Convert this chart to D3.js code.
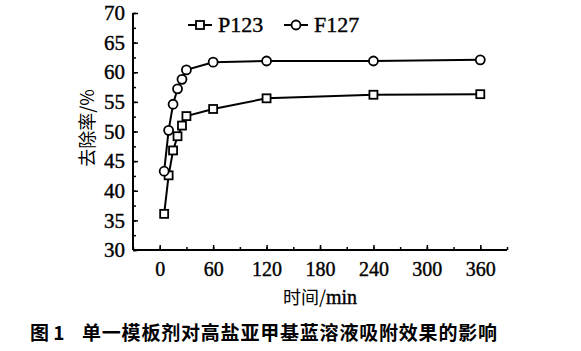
<!DOCTYPE html>
<html>
<head>
<meta charset="utf-8">
<script src="https://cdn.jsdelivr.net/npm/d3@7"></script>
<style>
  body { margin: 0; background: #fff; }
  svg { display: block; }
</style>
</head>
<body>
<svg id="chart" width="581" height="351"></svg>
<script>
const times = [5, 10, 15, 20, 25, 30, 60, 120, 240, 360];
const p123 = [36.1, 42.6, 46.8, 49.2, 51.0, 52.6, 53.8, 55.6, 56.2, 56.3];
const f127 = [43.3, 50.2, 54.6, 57.2, 58.8, 60.4, 61.7, 61.9, 61.9, 62.1];
const xTicks = [0, 60, 120, 180, 240, 300, 360];
const yTicks = [30, 35, 40, 45, 50, 55, 60, 65, 70];

const svg = d3.select("#chart");
const serif = "Liberation Serif";
const cjk = "Noto Sans CJK SC";

const x = d3.scaleLinear().domain([-30, 390]).range([133, 507]);
const y = d3.scaleLinear().domain([30, 70]).range([250, 13]);

// minor ticks first, then major with labels
svg.append("g")
    .attr("transform", "translate(0,250)")
    .call(d3.axisBottom(x).tickValues(d3.range(-30, 391, 30)).tickSize(-3).tickFormat(""))
    .call(g => g.select(".domain").remove());
svg.append("g")
    .attr("transform", "translate(133,0)")
    .call(d3.axisLeft(y).tickValues(d3.range(30, 70.1, 2.5)).tickSize(-3).tickFormat(""))
    .call(g => g.select(".domain").remove());

const xAxis = svg.append("g")
    .attr("transform", "translate(0,250)")
    .call(d3.axisBottom(x).tickValues(xTicks).tickSize(-5).tickPadding(12).tickSizeOuter(0))
    .attr("font-family", serif).attr("font-size", 20);
xAxis.select(".domain").attr("d", `M${x.range()[0]},0H${x.range()[1]}`).attr("stroke-width", 2);
xAxis.selectAll(".tick text").attr("fill", "#000").attr("stroke", "#000").attr("stroke-width", 0.4);

const yAxis = svg.append("g")
    .attr("transform", "translate(133,0)")
    .call(d3.axisLeft(y).tickValues(yTicks).tickSize(-5).tickPadding(8).tickSizeOuter(0))
    .attr("font-family", serif).attr("font-size", 21);
yAxis.select(".domain").attr("d", `M0,${y.range()[0]}V${y.range()[1]}`).attr("stroke-width", 2);
yAxis.selectAll(".tick text").attr("fill", "#000").attr("stroke", "#000").attr("stroke-width", 0.4);
svg.selectAll(".tick line").attr("stroke-width", 1.5);

// titles
svg.append("text")
    .attr("x", 320).attr("y", 304)
    .attr("text-anchor", "middle")
    .attr("font-size", 18)
    .attr("font-family", cjk)
    .text("时间/")
    .append("tspan").attr("font-family", serif).attr("font-size", 20)
    .attr("stroke", "#000").attr("stroke-width", 0.4).text("min");

svg.append("text")
    .attr("transform", "translate(94,128) rotate(-90)")
    .attr("text-anchor", "middle")
    .attr("font-size", 18)
    .attr("font-family", cjk)
    .text("去除率/%");

svg.append("text")
    .attr("x", 30).attr("y", 340)
    .attr("font-size", 19)
    .attr("font-weight", "bold")
    .attr("font-family", cjk)
    .text("图 1")
    .append("tspan").attr("x", 82).attr("letter-spacing", 0.8).text("单一模板剂对高盐亚甲基蓝溶液吸附效果的影响");

// series
const series = [
    {name: "P123", values: p123, shape: "square"},
    {name: "F127", values: f127, shape: "circle"},
];
const line = d3.line().x(d => x(d[0])).y(d => y(d[1]));

function marker(g, shape, cx, cy) {
    if (shape === "square") {
        g.append("rect")
            .attr("x", cx - 4).attr("y", cy - 4)
            .attr("width", 8).attr("height", 8)
            .attr("fill", "#fff").attr("stroke", "#000").attr("stroke-width", 1.8);
    } else {
        g.append("circle")
            .attr("cx", cx).attr("cy", cy).attr("r", 4.5)
            .attr("fill", "#fff").attr("stroke", "#000").attr("stroke-width", 1.8);
    }
}

series.forEach(s => {
    const pts = times.map((t, i) => [t, s.values[i]]);
    const g = svg.append("g");
    g.append("path")
        .attr("d", line(pts))
        .attr("fill", "none").attr("stroke", "#000").attr("stroke-width", 2);
    pts.forEach(p => marker(g, s.shape, x(p[0]), y(p[1])));
});

// legend
const legend = [
    {name: "P123", shape: "square", x0: 188},
    {name: "F127", shape: "circle", x0: 284},
];
legend.forEach(l => {
    const g = svg.append("g");
    g.append("line")
        .attr("x1", l.x0).attr("x2", l.x0 + 24).attr("y1", 25).attr("y2", 25)
        .attr("stroke", "#000").attr("stroke-width", 2);
    marker(g, l.shape, l.x0 + 12, 25);
    g.append("text")
        .attr("x", l.x0 + 30).attr("y", 32)
        .attr("font-size", 22)
        .attr("font-family", serif)
        .attr("stroke", "#000").attr("stroke-width", 0.4)
        .text(l.name);
});
</script>
</body>
</html>
